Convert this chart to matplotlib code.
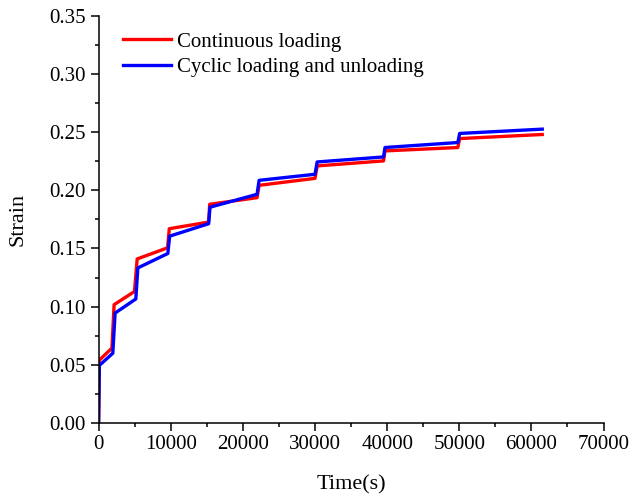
"""Strain vs time: continuous loading vs cyclic loading and unloading."""

import matplotlib.pyplot as plt
from matplotlib.ticker import MultipleLocator

plt.rcParams["font.family"] = ["Liberation Serif", "DejaVu Serif"]
plt.rcParams["font.size"] = 15

# 连续加载
time_continuous = [0, 0, 100, 1850, 2150, 4970, 5350, 9560, 9800, 15250, 15400,
                   21970, 22250, 30000, 30300, 39500, 39700, 49800, 50050, 61500]
strain_continuous = [0.0, 0.0, 0.054, 0.0644, 0.1017, 0.113, 0.141, 0.1506, 0.167,
                     0.1727, 0.188, 0.1937, 0.2043, 0.2103, 0.221, 0.2253, 0.2339,
                     0.2368, 0.2445, 0.248]

# 循环加卸载
time_cyclic = [0, 0, 100, 1970, 2290, 5160, 5440, 9600, 9850, 15250, 15450,
               21970, 22250, 30000, 30300, 39500, 39700, 49800, 50050, 61500]
strain_cyclic = [0.0, 0.0, 0.0494, 0.060, 0.0945, 0.1066, 0.1333, 0.1457, 0.1606,
                 0.1713, 0.1855, 0.1966, 0.2086, 0.2138, 0.2244, 0.2287, 0.2368,
                 0.2411, 0.2489, 0.2526]


def main() -> None:
    fig = plt.figure(figsize=(6.32, 4.95), dpi=100)
    ax = fig.add_axes([0.156, 0.1455, 0.799, 0.8225])

    ax.plot(time_continuous, strain_continuous, color="#ff0000", lw=2.4,
            label="Continuous loading")
    ax.plot(time_cyclic, strain_cyclic, color="#0000ff", lw=2.4,
            label="Cyclic loading and unloading")

    ax.set_xlim(0, 70000)
    ax.set_ylim(0, 0.35)
    ax.xaxis.set_major_locator(MultipleLocator(10000))
    ax.xaxis.set_minor_locator(MultipleLocator(5000))
    ax.yaxis.set_major_locator(MultipleLocator(0.05))
    ax.yaxis.set_minor_locator(MultipleLocator(0.025))
    ax.yaxis.set_major_formatter(lambda v, pos: f"{v:.2f}")

    for side in ["top", "right"]:
        ax.spines[side].set_visible(False)
    for side in ["left", "bottom"]:
        ax.spines[side].set_linewidth(1.1)
    ax.tick_params(which="major", direction="out", length=5.5, width=1.1)
    ax.tick_params(which="minor", direction="out", length=3, width=1.1)

    ax.set_xlabel("Time(s)", fontsize=16, labelpad=15)
    ax.set_ylabel("Strain", fontsize=16, labelpad=16)

    ax.legend(loc="upper left", bbox_to_anchor=(0.02, 0.996), frameon=False,
              handlelength=2.3, handletextpad=0.3, labelspacing=0.3,
              borderaxespad=0.3, fontsize=15)

    fig.savefig("out.png", dpi=100)
    plt.close(fig)


if __name__ == "__main__":
    main()
